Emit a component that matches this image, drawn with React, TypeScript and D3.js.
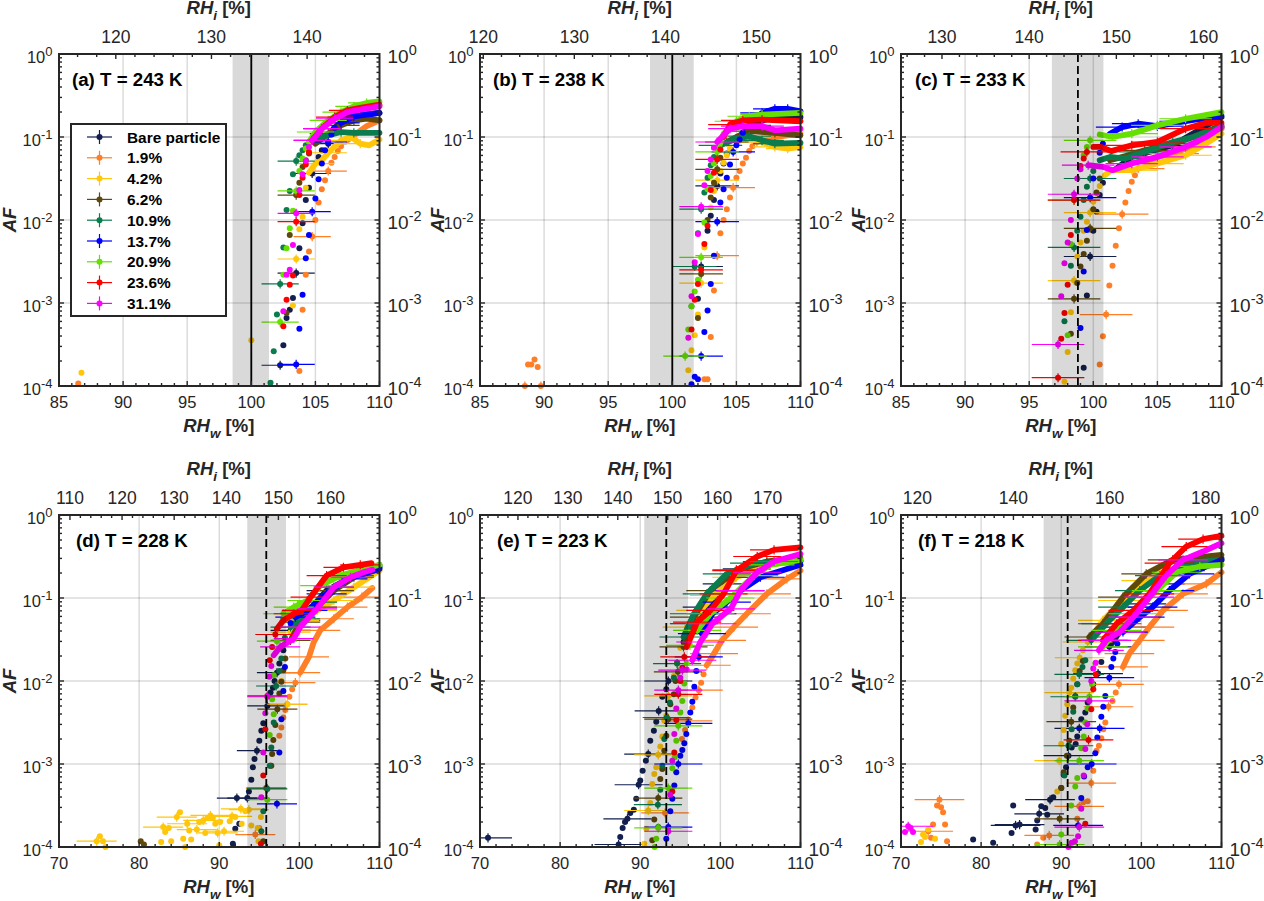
import React from "react";
import * as d3 from "d3";

// Every point: [RHw %, log10(AF), 1 if the point carries error bars]
type P = number[];

const seriesNames = ["Bare particle", "1.9%", "4.2%", "6.2%", "10.9%", "13.7%", "20.9%", "23.6%", "31.1%"];
const seriesColors = ["#121f4f", "#ff7f27", "#ffc60a", "#5f480c", "#0a7c4e", "#0000ff", "#66e000", "#ff0000", "#ff00ff"];

// ---------- (a) 243 K
const aBare: P[] = [[102.25,-3.75,1],[102.5,-3.51],[102.75,-3.18],[103,-3.08],[103.25,-2.94],[103.5,-2.64,1],[103.75,-2.34],[104,-2.04],[104.25,-1.76],[104.5,-1.61],[104.75,-1.44,1],[105.25,-1.24],[105.5,-1.16],[106,-1.08,1]];
const aBareThick: P[] = [[106.4,-0.9],[107.5,-0.755,1],[108.5,-0.735,1],[110,-0.71]];
const a19: P[] = [[86.5,-3.97],[103.75,-3.82],[104,-3.08],[104.25,-2.66],[104.5,-2.38],[104.75,-2.2,1],[105,-2],[105.25,-1.79],[105.5,-1.63],[105.75,-1.52],[106,-1.41,1],[106.25,-1.31],[106.5,-1.24],[106.75,-1.17],[107,-1.11]];
const a19Thick: P[] = [[107.5,-1.04],[108,-0.98],[109,-0.87],[110,-0.8]];
const a42: P[] = [[86.75,-3.84],[100,-3.45],[103.25,-3.03],[103.5,-2.47,1],[103.75,-2.11],[104,-1.96],[104.25,-1.61]];
const a42Thick: P[] = [[104.5,-1.43],[105,-1.32,1],[105.5,-1.28],[106,-1.19,1],[107,-1.04,1],[107.8,-1],[108.5,-1.08,1],[109.2,-1.1],[110,-1.03]];
const a62: P[] = [[102.75,-3.12],[103,-2.18],[103.5,-1.7,1],[103.75,-1.55],[104,-1.36],[104.25,-1.28],[104.5,-1.2]];
const a62Thick: P[] = [[105,-1.08],[106,-0.96,1],[107,-0.86,1],[108,-0.8,1],[109,-0.78],[110,-0.8]];
const a109: P[] = [[101.5,-3.96],[101.75,-3.58],[102,-3.14],[102.25,-2.77,1],[102.5,-2.33],[102.75,-1.88],[103,-1.65],[103.25,-1.45],[103.5,-1.29,1],[103.75,-1.22],[104,-1.16],[104.25,-1.1]];
const a109Thick: P[] = [[104.5,-1.06],[105.5,-1],[107,-0.94,1],[108,-0.95,1],[110,-0.95]];
const a137: P[] = [[103.5,-3.74,1],[103.75,-3.31],[104,-2.9],[104.25,-2.46],[104.5,-2.18],[104.75,-1.9,1],[105,-1.74],[105.25,-1.51],[105.5,-1.32],[105.75,-1.16],[106,-1.06,1],[106.25,-0.97],[106.5,-0.89]];
const a137Thick: P[] = [[107,-0.83,1],[108,-0.75,1],[110,-0.71]];
const a209: P[] = [[102.25,-3.23,1],[102.5,-2.66],[102.75,-2.34],[103,-2.1],[103.25,-1.89],[103.5,-1.65,1],[103.75,-1.41],[104,-1.26],[104.25,-1.14]];
const a209Thick: P[] = [[104.5,-1.06],[105,-0.94,1],[106,-0.8,1],[107,-0.7,1],[108,-0.63,1],[109,-0.59,1],[110,-0.57]];
const a236: P[] = [[102.5,-3.28],[102.75,-2.96],[103,-2.78],[103.25,-2.67],[103.5,-2.02,1],[103.75,-1.7],[104,-1.49],[104.25,-1.33],[104.5,-1.18]];
const a236Thick: P[] = [[104.75,-1.04,1],[105.5,-0.9,1],[106.5,-0.76,1],[107.5,-0.68,1],[108.5,-0.65],[110,-0.61]];
const a311: P[] = [[102.5,-3.1],[102.75,-2.66],[103,-2.6],[103.25,-2.3],[103.5,-1.92,1],[103.75,-1.64],[104,-1.45],[104.25,-1.29],[104.5,-1.12]];
const a311Thick: P[] = [[104.75,-1.04,1],[105.5,-0.9,1],[106.5,-0.78,1],[107.5,-0.7],[108.5,-0.67],[110,-0.63]];

// ---------- (b) 238 K
const bBare: P[] = [[102,-2.95],[102.25,-2.56,1],[102.75,-2.13],[103,-1.95],[103.25,-1.76],[103.5,-1.59,1],[103.75,-1.44],[104,-1.32],[104.25,-1.2]];
const bBareThick: P[] = [[105,-1.04],[106,-0.86,1],[108,-0.75,1],[110,-0.76]];
const b19: P[] = [[88.5,-4,1],[88.75,-3.74],[89,-3.74],[89.25,-3.68],[89.5,-3.77],[89.75,-4,1],[102.5,-3.92],[102.75,-3.92],[103,-3.41],[103.25,-2.85],[103.5,-2.43,1],[103.75,-2.16],[104,-2],[104.25,-1.87],[104.5,-1.73],[104.75,-1.61,1],[105,-1.49],[105.25,-1.41],[105.5,-1.32],[105.75,-1.25],[106,-1.17],[106.25,-1.11]];
const b19Thick: P[] = [[106.6,-1.06,1],[108,-1,1],[110,-0.96]];
const b42: P[] = [[101.25,-3.81],[101.5,-3.57],[101.75,-3.39],[102,-3.14],[102.25,-2.76,1],[102.5,-2.33],[103,-1.85],[103.25,-1.65],[103.5,-1.52,1],[103.75,-1.41],[104,-1.31],[104.25,-1.22],[104.5,-1.14]];
const b42Thick: P[] = [[105,-1.06],[106,-1,1],[107,-1.06,1],[108,-1.12,1],[109,-1.14,1],[110,-1.12]];
const b62: P[] = [[102,-3.18],[102.25,-2.65,1],[102.75,-2],[103,-1.73],[103.25,-1.55],[103.5,-1.39,1],[103.75,-1.25]];
const b62Thick: P[] = [[104.25,-1.06,1],[105,-1],[106,-0.93,1],[108,-0.95,1],[110,-0.98]];
const b109: P[] = [[101.5,-3.04],[101.75,-2.56,1],[102,-2.16],[102.25,-1.87,1],[102.5,-1.67],[102.75,-1.49],[103,-1.34],[103.25,-1.24]];
const b109Thick: P[] = [[103.75,-1.1,1],[105,-1.02],[106,-0.99,1],[107,-1.04,1],[108,-1.08,1],[110,-1.07]];
const b137: P[] = [[101.5,-3.98],[101.75,-3.89],[102,-3.92],[102.25,-3.64,1],[102.5,-3.35],[102.75,-3.09],[103,-2.77],[103.25,-2.43],[103.5,-2.02,1],[103.75,-1.79],[104,-1.63],[104.25,-1.49],[104.5,-1.33],[104.75,-1.18,1],[105,-1.1],[105.25,-1.03],[105.5,-0.95]];
const b137Thick: P[] = [[106,-0.85],[107,-0.71,1],[108,-0.66,1],[109,-0.66,1],[110,-0.69]];
const b209: P[] = [[101,-3.64,1],[101.25,-3.32],[101.5,-3.04],[101.75,-2.86],[102,-2.72],[102.25,-2.45,1],[102.5,-2.03],[102.75,-1.63],[103,-1.47],[103.25,-1.32]];
const b209Thick: P[] = [[103.5,-1.18,1],[104,-0.96],[105,-0.81,1],[106,-0.75,1],[107,-0.73,1],[110,-0.71]];
const b236: P[] = [[101.5,-3.32],[101.75,-2.96],[102,-2.77],[102.25,-2.6,1],[102.5,-2.29],[102.75,-2.07],[103,-1.64],[103.25,-1.43],[103.5,-1.27,1],[103.75,-1.15]];
const b236Thick: P[] = [[104,-1],[104.5,-0.85,1],[105.5,-0.8,1],[107,-0.79,1],[110,-0.81]];
const b311: P[] = [[101.25,-3.42],[101.5,-2.92],[101.75,-2.51],[102,-2.17],[102.25,-1.84,1],[102.5,-1.58],[102.75,-1.41],[103,-1.27],[103.25,-1.13]];
const b311Thick: P[] = [[103.5,-1.06,1],[104,-0.98],[104.5,-0.9,1],[105.5,-0.87,1],[107,-0.87,1],[108,-0.92],[110,-0.9]];

// ---------- (c) 233 K
const cBare: P[] = [[99.25,-3.78],[99.5,-2.91],[99.75,-2.44,1],[100,-2.13],[100.25,-1.9],[100.5,-1.7],[100.75,-1.55]];
const cBareThick: P[] = [[101.8,-1.38],[103,-1.24,1],[106.2,-1.1,1],[110,-0.76]];
const c19: P[] = [[100.5,-3.74],[100.75,-3.4],[101,-3.14,1],[101.25,-2.79],[101.5,-2.55],[101.75,-2.31],[102,-2.1],[102.25,-1.93,1],[102.5,-1.79],[102.75,-1.65],[103,-1.54],[103.25,-1.46],[103.5,-1.38,1]];
const c19Thick: P[] = [[104.1,-1.31],[105,-1.24,1],[106.2,-1.2,1],[107.5,-1.12,1],[108.8,-1.04],[110,-0.9]];
const c42: P[] = [[97.75,-3.95],[98,-3.59],[98.25,-3.11],[98.5,-2.73,1],[98.75,-2.44],[99,-2.27],[99.25,-2.13],[99.5,-2.02],[99.75,-1.91,1],[100,-1.78],[100.25,-1.68],[100.5,-1.59]];
const c42Thick: P[] = [[100.9,-1.46],[101.4,-1.4],[103,-1.4,1],[105,-1.32,1],[107.2,-1.22,1],[108.8,-1.08],[110,-0.96]];
const c62: P[] = [[98.25,-3.37],[98.5,-2.95,1],[98.75,-2.76],[99,-2.56],[99.25,-2.41],[99.5,-2.25],[99.75,-2.1,1],[100,-1.87],[100.25,-1.67],[100.5,-1.5]];
const c62Thick: P[] = [[101.3,-1.28],[102.5,-1.23],[104,-1.16,1],[106.2,-1.08,1],[107.8,-1],[110,-0.86]];
const c109: P[] = [[97.75,-3.22],[98.25,-2.55],[98.5,-2.33,1],[98.75,-2.13],[99,-1.96],[99.25,-1.76],[99.5,-1.6],[99.75,-1.5,1],[100,-1.41]];
const c109Thick: P[] = [[100.5,-1.28],[101.3,-1.24],[102.5,-1.26,1],[104,-1.18,1],[106.2,-1.06,1],[107.8,-1],[110,-0.88]];
const c137: P[] = [[99,-3.3],[99.25,-2.62],[99.5,-2.12],[99.75,-1.73,1],[100,-1.5],[100.5,-1.19],[100.75,-1.08]];
const c137Thick: P[] = [[101.3,-0.96],[102.25,-0.88,1],[103.5,-0.84,1],[105,-0.87,1],[107.2,-0.81,1],[110,-0.74]];
const c209: P[] = [[98,-3.39],[98.25,-2.29],[98.5,-1.76,1],[99.25,-1.22],[99.5,-1.12],[99.75,-1.04,1]];
const c209Thick: P[] = [[100.5,-0.97],[101.5,-1],[103,-0.96,1],[105,-0.86,1],[107.2,-0.78,1],[110,-0.7]];
const c236: P[] = [[97.25,-3.9,1],[97.5,-3.43],[97.75,-3.12],[98,-2.78],[98.25,-2.18],[98.5,-1.76,1],[99,-1.35],[99.25,-1.26],[99.5,-1.18,1]];
const c236Thick: P[] = [[100,-1.12],[100.6,-1.12],[101.4,-1.17],[103,-1.1,1],[105,-1.06,1],[107.2,-0.9,1],[108.8,-0.83],[110,-0.83]];
const c311: P[] = [[97.25,-3.5,1],[97.5,-2.92],[97.75,-2.52],[98,-2.27],[98.25,-2],[98.5,-1.69,1],[98.75,-1.5],[99,-1.39]];
const c311Thick: P[] = [[99.6,-1.34,1],[100.75,-1.36],[101.5,-1.4],[103,-1.32,1],[105,-1.24,1],[107.2,-1.12,1],[108.8,-1],[110,-0.88]];

// ---------- (d) 228 K
const dBare: P[] = [[91.7,-3.96],[92,-3.78],[92.5,-3.72],[92.2,-3.41,1],[93.5,-3.41,1],[93.7,-3.33],[94,-3.19],[94.2,-3.04],[94.4,-2.94],[94.7,-2.84,1],[95,-2.72],[95.25,-2.6],[95.5,-2.51],[96,-2.3,1],[96.4,-2.14],[96.7,-2.08],[96.9,-2],[97.2,-1.9,1],[97.5,-1.79],[98,-1.63]];
const dBareThick: P[] = [[98.9,-1.39,1],[100.1,-1.27,1],[103.4,-0.91,1],[106.8,-0.73,1],[110,-0.63]];
const d19: P[] = [[94.5,-3.85,1],[95,-3.77],[96.4,-3.02],[97.5,-2.66],[97.75,-2.56],[98,-2.44],[98.25,-2.35],[98.5,-2.28,1],[98.75,-2.19],[99.1,-2.1],[99.5,-2.02,1]];
const d19Thick: P[] = [[100.1,-1.9,1],[101.2,-1.71,1],[101.8,-1.53],[102.6,-1.39,1],[104.3,-1.25,1],[106,-1.11,1],[107.8,-0.99,1],[109.1,-0.88]];
const d42: P[] = [[74.7,-3.93,1],[75.1,-3.87],[75.5,-3.93],[75.8,-4],[82.75,-3.94],[84,-3.93],[83,-3.76,1],[83.7,-3.77],[83.25,-3.82],[84.7,-3.64,1],[85.1,-3.58],[85.5,-3.9],[86,-3.72,1],[86.25,-3.8],[86.5,-3.91],[85.75,-4],[87.2,-3.79,1],[87.5,-3.7],[88,-3.68,1],[88.5,-3.65],[88.9,-3.62,1],[89.2,-3.65],[88.25,-3.83],[89.5,-3.72],[90.1,-3.7],[89.8,-3.83,1],[90,-3.98],[90.6,-3.81,1],[91.3,-3.69],[91.6,-3.63,1],[92,-3.64],[92.7,-3.54,1],[93.25,-3.57],[93.7,-3.55,1],[92.8,-3.72],[94,-3.74],[95.2,-3.64],[94.8,-3.77],[94.9,-3.93],[95.8,-3.29,1],[97.75,-2],[98.5,-2.28,1]];
const d42Thick: P[] = [[98.9,-1.41,1],[100,-1.27,1],[102.2,-1.15,1],[104.3,-1.03,1],[106.8,-0.87,1],[110,-0.67]];
const d62: P[] = [[80.2,-3.93],[80.6,-3.97],[95.5,-3.93],[95.9,-3.29,1],[96.5,-3.02],[96.6,-2.88],[96.75,-2.71],[97,-2.53],[97.25,-2.34,1],[97.5,-2.15],[97.75,-2.01],[98,-1.87],[98.25,-1.73]];
const d62Thick: P[] = [[98.9,-1.51,1],[100.1,-1.29,1],[102.2,-1.11,1],[104.3,-0.91,1],[106.8,-0.75,1],[110,-0.6]];
const d109: P[] = [[95.25,-3.81],[95.5,-3.57],[96,-3.3,1],[96.3,-3.02],[96.5,-2.8],[96.8,-2.5],[97.1,-2.06,1],[97.5,-1.88],[97.75,-1.73],[98.2,-1.48]];
const d109Thick: P[] = [[98.9,-1.35,1],[100.1,-1.25,1],[102.2,-1.05,1],[104.3,-0.87,1],[106.8,-0.73,1],[110,-0.62]];
const d137: P[] = [[97.2,-3.48,1],[97.5,-2.86],[97.75,-2.46],[98,-2.12],[98.2,-1.83],[98.9,-1.3]];
const d137Thick: P[] = [[99.5,-1.23,1],[101,-1.15,1],[103.4,-0.95,1],[106,-0.77,1],[110,-0.65]];
const d209: P[] = [[96,-3.43,1],[96.3,-2.65],[96.8,-2.4],[96.6,-2.22],[96.8,-1.93],[97.2,-1.52,1]];
const d209Thick: P[] = [[98,-1.19,1],[99.3,-1.11,1],[101,-1.03,1],[102.6,-0.85,1],[105.1,-0.73,1],[110,-0.6]];
const d236: P[] = [[95.2,-3.96],[95.5,-3.14],[95.75,-2.58],[96,-2.18,1],[96.3,-1.75],[96.6,-1.59],[97,-1.44,1]];
const d236Thick: P[] = [[97.2,-1.37],[98,-1.27],[99.3,-1.19,1],[100.3,-1.15,1],[101.4,-0.99,1],[103.4,-0.73,1],[105.5,-0.63,1],[107.6,-0.6,1],[109,-0.58]];
const d311: P[] = [[95.25,-3.4],[95.5,-2.86],[95.75,-2.39],[96,-2.19,1],[96.25,-1.95],[96.5,-1.82]];
const d311Thick: P[] = [[96.8,-1.69],[97.6,-1.59,1],[99.3,-1.49,1],[100.1,-1.35,1],[102.2,-1.13,1],[104.3,-0.87,1],[106.4,-0.75,1],[108,-0.69],[109.1,-0.66]];

// ---------- (e) 223 K
const eBare: P[] = [[71,-3.89,1],[87.3,-3.97,1],[87.5,-3.88],[87.8,-3.77],[88.1,-3.7],[88.4,-3.66,1],[88.75,-3.59],[89.2,-3.55],[89.5,-3.42],[89.8,-3.25,1],[90,-3.2],[90.3,-3.08],[90.7,-2.96],[91,-2.88,1],[91.25,-2.72],[91.7,-2.6],[92,-2.49],[92.3,-2.36,1],[92.75,-2.19],[93.25,-2.1],[93.5,-2,1],[94.6,-1.78]];
const eBareThick: P[] = [[95.4,-1.53],[96.7,-1.31,1],[98.3,-1.11,1],[100.8,-0.83,1],[103.3,-0.65,1],[105.8,-0.58,1],[110,-0.55]];
const e19: P[] = [[93.1,-3.59,1],[95.2,-2.7],[95.6,-2.59],[96,-2.48,1],[96.5,-2.32],[96.9,-2.2],[97.3,-2.11,1],[97.6,-2.02],[97.9,-1.92]];
const e19Thick: P[] = [[98.3,-1.81,1],[99.2,-1.67,1],[100.2,-1.51,1],[101.7,-1.35,1],[103.3,-1.19,1],[105.8,-0.95,1],[108.3,-0.77,1],[110,-0.67]];
const e42: P[] = [[90.5,-3.96],[90.75,-3.78],[91,-3.56,1],[91.25,-3.47],[91.5,-3.24],[91.75,-3.12],[92,-3.04],[92.25,-2.89,1],[92.5,-2.79],[92.75,-2.67],[93,-2.48],[93.25,-2.42],[93.5,-2.18,1],[94.2,-1.94],[94.6,-1.79],[95,-1.6]];
const e42Thick: P[] = [[95.8,-1.35,1],[97.5,-1.15,1],[99.2,-0.97,1],[102,-0.75,1],[105.8,-0.6,1],[110,-0.55]];
const e62: P[] = [[91.5,-3.92],[91.75,-3.67],[92.25,-3.41,1],[92.5,-3.18],[92.75,-3.06],[93,-2.84],[93.25,-2.66],[93.5,-2.46,1],[93.75,-2.28],[94.2,-2.16],[94.4,-2],[94.7,-1.89,1]];
const e62Thick: P[] = [[95.4,-1.59,1],[96.7,-1.23,1],[98.75,-0.91,1],[102,-0.66,1],[105.8,-0.56,1],[110,-0.52]];
const e109: P[] = [[92.25,-3.76],[92.2,-3.49,1],[92.5,-3.31],[92.75,-3.02],[93,-2.7],[93.3,-2.44,1],[93.7,-2.26],[94.2,-1.96],[94.6,-1.79,1]];
const e109Thick: P[] = [[95.4,-1.47,1],[96.7,-1.19,1],[98.3,-0.95,1],[100.8,-0.71,1],[104.2,-0.58,1],[110,-0.56]];
const e137: P[] = [[93.25,-3.9],[93.5,-3.76,1],[93.75,-3.57],[94,-3.42],[94.25,-3.26],[94.5,-3.1],[94.75,-3,1],[95,-2.9],[95.25,-2.83],[95.5,-2.75],[95.75,-2.64],[96,-2.51,1],[96.25,-2.38],[96.5,-2.25],[96.75,-2.07],[97,-1.88],[97.3,-1.71,1]];
const e137Thick: P[] = [[97.7,-1.43,1],[99,-1.19,1],[100.8,-1.05,1],[102.5,-0.91,1],[105,-0.75,1],[110,-0.6]];
const e209: P[] = [[91.8,-4],[92,-3.9],[92.25,-3.77,1],[93.5,-3.29,1],[94,-3.05],[94.3,-2.92],[94.5,-2.72],[94.75,-2.54,1],[95,-2.38],[95.25,-2.24],[95.5,-2.03],[95.8,-1.79],[96.2,-1.57,1]];
const e209Thick: P[] = [[97.1,-1.39,1],[98.75,-1.19,1],[101.25,-1,1],[104.2,-0.73,1],[106.25,-0.6,1],[110,-0.54]];
const e236: P[] = [[94,-3.33],[94.25,-2.86],[94.5,-2.47],[94.75,-2.16,1],[95,-2],[95.25,-1.84],[95.5,-1.71,1]];
const e236Thick: P[] = [[95.8,-1.59],[97.1,-1.29,1],[98.75,-1.15,1],[100.4,-0.95,1],[102,-0.67,1],[104.6,-0.5,1],[106.7,-0.42,1],[110,-0.39]];
const e311: P[] = [[93.5,-3.81,1],[93.75,-3.37],[94,-2.96],[94.25,-2.64],[94.5,-2.33],[94.75,-2.11,1],[95,-1.96],[95.25,-1.87,1],[95.8,-1.86]];
const e311Thick: P[] = [[96.5,-1.75,1],[97.5,-1.53,1],[99,-1.31,1],[101.3,-1.13,1],[102.5,-0.91,1],[104.6,-0.69,1],[106.7,-0.56,1],[110,-0.47]];

// ---------- (f) 218 K
const fBare: P[] = [[79,-3.91],[81.5,-3.95],[83.8,-3.83],[84,-3.5],[84.3,-3.74,1],[84.8,-3.73,1],[86.8,-3.79],[87,-3.68],[87.25,-3.6,1],[87.5,-3.51],[88,-3.53],[88.25,-3.61],[88.6,-3.43,1],[89,-3.4],[90,-3.29],[90.3,-3.13],[90.6,-3.04],[90.9,-2.9,1],[91.3,-2.8],[91.8,-2.76],[92,-2.67],[92.25,-2.57,1],[92.5,-2.46],[93,-2.38],[93.3,-2.26],[94,-2.04],[94.6,-1.91,1],[95,-1.77]];
const fBareThick: P[] = [[96,-1.59,1],[97.7,-1.35,1],[100,-1.07,1],[102.3,-0.83,1],[104.8,-0.67,1],[110,-0.52]];
const f19: P[] = [[74,-3.73],[74.5,-3.5],[74.8,-3.43,1],[75,-3.52],[75.25,-3.58],[75.5,-3.73],[75.75,-3.93],[73.4,-3.81,1],[73.75,-3.89],[87.75,-3.89],[88.5,-3.86,1],[87,-3.97],[92,-3.66],[92.25,-3.51,1],[92.75,-3.46],[93.3,-3.45],[93.75,-3.23,1],[94,-3.08],[94.4,-2.84],[94.7,-2.78],[95,-2.69],[95.25,-2.58],[95.5,-2.5],[95.9,-2.31,1],[96.4,-2.24],[96.8,-2.14],[97.2,-2.04,1]];
const f19Thick: P[] = [[97.7,-1.83,1],[98.5,-1.67,1],[99.8,-1.51,1],[101,-1.35,1],[102.7,-1.15,1],[105.2,-0.95,1],[108.1,-0.83,1],[110,-0.69]];
const f42: P[] = [[72.5,-3.94],[72.75,-3.85],[73,-3.88],[73.4,-3.79],[74.25,-3.9],[89.5,-3.33],[89.75,-2.96,1],[90,-2.76],[90.3,-2.59],[90.5,-2.42],[90.75,-2.28],[91,-2.14,1],[91.25,-2.08],[91.5,-1.97],[91.75,-1.87],[92,-1.79],[92.3,-1.72,1],[92.7,-1.63]];
const f42Thick: P[] = [[93.3,-1.53,1],[95.2,-1.27,1],[97.7,-1.03,1],[100.6,-0.79,1],[103.9,-0.67,1],[110,-0.59]];
const f62: P[] = [[89.8,-3.66,1],[90,-3.29],[90.3,-3.1],[90.7,-2.9],[91,-2.72],[91.25,-2.49,1],[91.5,-2.32],[91.75,-2.18],[92,-2.04],[92.3,-1.88],[92.7,-1.76]];
const f62Thick: P[] = [[93.5,-1.47,1],[95.2,-1.31,1],[97.7,-0.99,1],[100.6,-0.71,1],[103.9,-0.54,1],[110,-0.48]];
const f109: P[] = [[90.4,-3.14],[90.9,-2.78,1],[91.3,-2.58],[91.5,-2.37],[91.75,-2.19,1],[92,-2.04],[92.25,-1.92,1],[92.65,-1.83],[93,-1.75]];
const f109Thick: P[] = [[93.75,-1.51,1],[95.6,-1.31,1],[97.7,-1.11,1],[99.8,-0.91,1],[102.3,-0.73,1],[105.6,-0.58,1],[110,-0.54]];
const f137: P[] = [[92.1,-3.74,1],[92.5,-3.41],[92.85,-3.15],[93.3,-3.04],[93.8,-3,1],[94.25,-2.87],[94.5,-2.68],[94.8,-2.57,1],[95,-2.43],[95.25,-2.31],[95.5,-2.18],[96,-1.96,1],[96.25,-1.83],[96.5,-1.73],[96.75,-1.65],[97,-1.55]];
const f137Thick: P[] = [[97.7,-1.41,1],[99.8,-1.23,1],[101.4,-1.11,1],[103.5,-0.91,1],[106,-0.71,1],[110,-0.54]];
const f209: P[] = [[89.8,-3.97,1],[90,-3.85],[91.25,-3.5],[91.75,-3.27],[92,-3.17],[92.25,-2.96,1],[92.5,-2.81],[92.8,-2.67],[93,-2.5],[93.3,-2.33],[93.5,-2.19,1],[93.85,-2.04],[94.25,-1.79]];
const f209Thick: P[] = [[95.2,-1.59,1],[96.9,-1.39,1],[99,-1.19,1],[101.9,-0.91,1],[104.4,-0.69,1],[107.3,-0.62,1],[110,-0.6]];
const f236: P[] = [[93,-3.72],[93.4,-2.71,1],[93.75,-2.34],[94,-2.1],[94.3,-1.92]];
const f236Thick: P[] = [[95.2,-1.51,1],[96.9,-1.31,1],[99,-1.15,1],[101,-0.95,1],[103.5,-0.58,1],[105.6,-0.38,1],[107.7,-0.29,1],[110,-0.25]];
const f311: P[] = [[70.5,-3.82],[70.9,-3.75,1],[71.2,-3.77],[71.5,-3.82],[90.9,-4],[91.3,-3.95],[91.7,-3.93],[92.1,-3.87],[92.25,-3.76,1],[92.5,-3.54],[92.8,-3.14],[93,-2.82],[93.25,-2.52],[93.5,-2.24,1],[93.75,-2],[94,-1.85],[94.3,-1.78]];
const f311Thick: P[] = [[94.7,-1.63,1],[95.6,-1.51,1],[97.3,-1.41,1],[99,-1.23,1],[101,-0.99,1],[103.1,-0.73,1],[105.2,-0.54,1],[107.7,-0.44],[110,-0.34]];

const aDots = [aBare, a19, a42, a62, a109, a137, a209, a236, a311];
const aBands = [aBareThick, a19Thick, a42Thick, a62Thick, a109Thick, a137Thick, a209Thick, a236Thick, a311Thick];
const bDots = [bBare, b19, b42, b62, b109, b137, b209, b236, b311];
const bBands = [bBareThick, b19Thick, b42Thick, b62Thick, b109Thick, b137Thick, b209Thick, b236Thick, b311Thick];
const cDots = [cBare, c19, c42, c62, c109, c137, c209, c236, c311];
const cBands = [cBareThick, c19Thick, c42Thick, c62Thick, c109Thick, c137Thick, c209Thick, c236Thick, c311Thick];
const dDots = [dBare, d19, d42, d62, d109, d137, d209, d236, d311];
const dBands = [dBareThick, d19Thick, d42Thick, d62Thick, d109Thick, d137Thick, d209Thick, d236Thick, d311Thick];
const eDots = [eBare, e19, e42, e62, e109, e137, e209, e236, e311];
const eBands = [eBareThick, e19Thick, e42Thick, e62Thick, e109Thick, e137Thick, e209Thick, e236Thick, e311Thick];
const fDots = [fBare, f19, f42, f62, f109, f137, f209, f236, f311];
const fBands = [fBareThick, f19Thick, f42Thick, f62Thick, f109Thick, f137Thick, f209Thick, f236Thick, f311Thick];

const panelLabels = ["(a) T = 243 K", "(b) T = 238 K", "(c) T = 233 K", "(d) T = 228 K", "(e) T = 223 K", "(f) T = 218 K"];
const panelDots = [aDots, bDots, cDots, dDots, eDots, fDots];
const panelBands = [aBands, bBands, cBands, dBands, eBands, fBands];
const rhwMin = [85, 85, 85, 70, 70, 70];
const rhiDomains = [[114.06, 147.57], [119.64, 154.84], [125.3, 162.06], [107.9, 169.4], [112.4, 176.6], [116.6, 183.3]];
const rhiMajor = [[120, 130, 140], [120, 130, 140, 150], [130, 140, 150, 160], [110, 120, 130, 140, 150, 160], [120, 130, 140, 150, 160, 170], [120, 140, 160, 180]];
const shade = [[98.54, 101.38], [98.26, 101.67], [96.77, 100.79], [93.5, 98.33], [90.5, 95.96], [87.8, 93.9]];
const homRH = [100, 100, 98.8, 95.87, 93.25, 90.8];
const homDashed = [false, false, true, true, true, true];
const xErrHalf = [1.45, 1.7, 2.05, 2.5, 3.0, 3.1];
const yErrLog = 0.055;
const afExponents = [0, -1, -2, -3, -4];
const afMinorMult = [2, 3, 4, 5, 6, 7, 8, 9];

// layout
const boxW = 320.5;
const boxH = 332;
const boxLeft = [59, 480, 901, 59, 480, 901];
const boxTop = [54, 54, 54, 515, 515, 515];
const labelDx = [13, 13, 14, 17, 17, 17];
const afDx = [-43, -36, -36, -43, -36, -36];
const FONT = "'Liberation Sans', Arial, sans-serif";
const INK = "#262626";

function Panel({ i }: { i: number }) {
  const left = boxLeft[i], top = boxTop[i], right = left + boxW, bottom = top + boxH;
  const x = d3.scaleLinear().domain([rhwMin[i], 110]).range([left, right]);
  const xTop = d3.scaleLinear().domain(rhiDomains[i]).range([left, right]);
  const y = d3.scaleLog().domain([1e-4, 1]).range([bottom, top]);
  const yL = (l: number) => y(Math.pow(10, l));
  const step = rhwMin[i] === 85 ? 5 : 10;
  const minorStep = rhwMin[i] === 85 ? 1 : 2;
  const xMajor = d3.range(rhwMin[i], 110.01, step);
  const xMinor = d3.range(rhwMin[i], 110.01, minorStep).filter((v) => !xMajor.includes(v));
  const topMajor = rhiMajor[i];
  const topMinor = d3.range(Math.ceil(rhiDomains[i][0] / 2) * 2, rhiDomains[i][1], 2).filter((v) => !topMajor.includes(v));
  const yMinor = afExponents.slice(1).flatMap((e) => afMinorMult.map((m) => m * Math.pow(10, e)));
  const line = d3.line<P>().x((d) => x(d[0])).y((d) => yL(d[1]));
  const clipId = `clip${i}`;
  const xe = xErrHalf[i];
  const tick = (key: string, x1: number, y1: number, x2: number, y2: number) => (
    <line key={key} x1={x1} y1={y1} x2={x2} y2={y2} stroke={INK} strokeWidth={1.4} />
  );
  const titleMid = left + boxW / 2 - 0.5;
  return (
    <g fontFamily={FONT}>
      <clipPath id={clipId}><rect x={left} y={top} width={boxW} height={boxH} /></clipPath>
      {xMajor.slice(1, -1).map((v) => (
        <line key={"gx" + v} x1={x(v)} x2={x(v)} y1={top} y2={bottom} stroke="#000" strokeOpacity={0.14} strokeWidth={1.5} />
      ))}
      {afExponents.slice(1, -1).map((e) => (
        <line key={"gy" + e} x1={left} x2={right} y1={y(Math.pow(10, e))} y2={y(Math.pow(10, e))} stroke="#000" strokeOpacity={0.14} strokeWidth={1.5} />
      ))}
      {seriesColors.map((c, s) => {
        const dots = panelDots[i][s];
        const band = panelBands[i][s];
        const errs = [...dots, ...band].filter((d) => d[2]);
        return (
          <g key={s}>
            <g clipPath={`url(#${clipId})`} stroke={c} strokeWidth={1.2}>
              {errs.map((d, k) => (
                <g key={k}>
                  <line x1={x(d[0] - xe)} x2={x(d[0] + xe)} y1={yL(d[1])} y2={yL(d[1])} />
                  <line x1={x(d[0])} x2={x(d[0])} y1={yL(d[1] - yErrLog)} y2={yL(d[1] + yErrLog)} />
                </g>
              ))}
            </g>
            <path d={line(band) || ""} fill="none" stroke={c} strokeWidth={5.8} strokeLinecap="round" strokeLinejoin="round" />
            {dots.map((d, k) => (
              <circle key={k} cx={x(d[0])} cy={yL(d[1])} r={3} fill={c} />
            ))}
          </g>
        );
      })}
      <rect x={x(shade[i][0])} width={x(shade[i][1]) - x(shade[i][0])} y={top} height={boxH} fill="#000" fillOpacity={0.15} />
      <line x1={x(homRH[i])} x2={x(homRH[i])} y1={top} y2={bottom} stroke="#000" strokeWidth={1.8} strokeDasharray={homDashed[i] ? "8 4" : undefined} />
      {/* ticks */}
      {xMajor.map((v) => tick("bM" + v, x(v), bottom, x(v), bottom - 5))}
      {xMinor.map((v) => tick("bm" + v, x(v), bottom, x(v), bottom - 3))}
      {topMajor.map((v) => tick("tM" + v, xTop(v), top, xTop(v), top + 5))}
      {topMinor.map((v) => tick("tm" + v, xTop(v), top, xTop(v), top + 3))}
      {afExponents.map((e) => {
        const yy = y(Math.pow(10, e));
        return (
          <g key={e}>
            {tick("lM", left, yy, left + 5, yy)}
            {tick("rM", right, yy, right - 5, yy)}
          </g>
        );
      })}
      {yMinor.map((v) => (
        <g key={v}>
          {tick("lm", left, y(v), left + 3, y(v))}
          {tick("rm", right, y(v), right - 3, y(v))}
        </g>
      ))}
      <rect x={left} y={top} width={boxW} height={boxH} fill="none" stroke={INK} strokeWidth={2} />
      {/* tick labels */}
      <g fill={INK}>
        {xMajor.map((v) => (
          <text key={v} x={x(v)} y={bottom + 22} textAnchor="middle" fontSize={16.5}>{v}</text>
        ))}
        {topMajor.map((v) => (
          <text key={v} x={xTop(v)} y={top - 11} textAnchor="middle" fontSize={17.5}>{v}</text>
        ))}
        {afExponents.map((e) => (
          <text key={e} x={left - 6.5} y={y(Math.pow(10, e)) + 9} textAnchor="end" fontSize={16.5}>
            10<tspan dy={-7} fontSize={13}>{e}</tspan>
          </text>
        ))}
      </g>
      <g fill={INK} fontSize={19}>
        {afExponents.map((e) => (
          <text key={e} x={right + 8} y={y(Math.pow(10, e)) + 9}>
            10<tspan dy={-8} fontSize={14.5}>{e}</tspan>
          </text>
        ))}
      </g>
      {/* titles */}
      <g fill={INK} fontSize={18.5} fontWeight="bold">
        <text x={titleMid} y={bottom + 46} textAnchor="middle">
          <tspan fontStyle="italic">RH</tspan>
          <tspan fontStyle="italic" fontSize={13.5} dy={6}>w</tspan>
          <tspan dy={-6}> [%]</tspan>
        </text>
        <text x={titleMid} y={top - 40} textAnchor="middle">
          <tspan fontStyle="italic">RH</tspan>
          <tspan fontStyle="italic" fontSize={13.5} dy={6}>i</tspan>
          <tspan dy={-6}> [%]</tspan>
        </text>
        <text transform={`translate(${left + afDx[i]},${top + 166}) rotate(-90)`} textAnchor="middle" fontStyle="italic">AF</text>
      </g>
      <text x={left + labelDx[i]} y={top + 32} fontSize={18.7} fontWeight="bold" fill="#000">{panelLabels[i]}</text>
    </g>
  );
}

function Legend() {
  const bx = 71, by = 124, bw = 155, bh = 192;
  const row0 = 137, rowStep = 20.8;
  return (
    <g fontFamily={FONT}>
      <rect x={bx} y={by} width={bw} height={bh} fill="#fff" stroke={INK} strokeWidth={2} />
      {seriesNames.map((n, s) => {
        const yy = row0 + s * rowStep;
        return (
          <g key={n}>
            <line x1={87} x2={112} y1={yy} y2={yy} stroke={seriesColors[s]} strokeWidth={1.2} />
            <line x1={99.5} x2={99.5} y1={yy - 7} y2={yy + 7} stroke={seriesColors[s]} strokeWidth={1.2} />
            <circle cx={99.5} cy={yy} r={3} fill={seriesColors[s]} />
            <text x={127} y={yy + 5.5} fontSize={15.4} fontWeight="bold" fill="#000">{n}</text>
          </g>
        );
      })}
    </g>
  );
}

export default function App() {
  return (
    <svg width={1264} height={901} style={{ position: "absolute", left: 0, top: 0, background: "#fff" }}>
      {panelLabels.map((_, i) => <Panel key={i} i={i} />)}
      <Legend />
    </svg>
  );
}
